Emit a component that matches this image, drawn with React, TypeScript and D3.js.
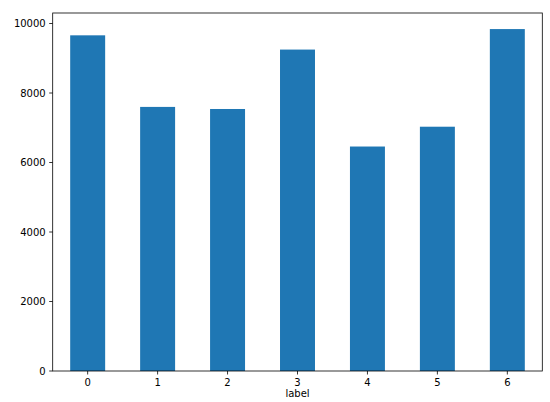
import React from "react";
import * as d3 from "d3";

const categories = ["0", "1", "2", "3", "4", "5", "6"];
const counts = [9660, 7600, 7540, 9250, 6460, 7030, 9840];
const yTicks = [0, 2000, 4000, 6000, 8000, 10000];
const xLabel = "label";

const W = 550;
const H = 402;
const M = { left: 52.7, right: 7.7, top: 13, bottom: 31 };

export default function App() {
  const x = d3
    .scaleLinear()
    .domain([-0.5, categories.length - 0.5])
    .range([M.left, W - M.right]);
  const maxV = d3.max(counts) as number;
  const y = d3
    .scaleLinear()
    .domain([0, maxV * 1.047])
    .range([H - M.bottom, M.top]);
  const bw = x(0.25) - x(-0.25);
  const font = "DejaVu Sans, sans-serif";
  const y0 = y(0);
  return (
    <svg
      width={W}
      height={H}
      style={{ position: "absolute", left: 0, top: 0, background: "#fff" }}
      fontFamily={font}
    >
      {counts.map((v, i) => (
        <rect
          key={i}
          x={x(i) - bw / 2}
          y={y(v)}
          width={bw}
          height={y0 - y(v)}
          fill="#1f77b4"
        />
      ))}
      <rect
        x={M.left}
        y={M.top}
        width={W - M.right - M.left}
        height={y0 - M.top}
        fill="none"
        stroke="#000"
        strokeWidth={0.8}
      />
      {yTicks.map((t) => (
        <g key={t} transform={`translate(0,${y(t)})`}>
          <line x1={M.left - 3.5} x2={M.left} stroke="#000" strokeWidth={0.8} />
          <text
            x={M.left - 7}
            dy="0.35em"
            textAnchor="end"
            fontSize={10}
            fill="#000"
          >
            {t}
          </text>
        </g>
      ))}
      {categories.map((c, i) => (
        <g key={c} transform={`translate(${x(i)},${y0})`}>
          <line y1={0} y2={3.5} stroke="#000" strokeWidth={0.8} />
          <text y={7} dy="0.75em" textAnchor="middle" fontSize={10} fill="#000">
            {c}
          </text>
        </g>
      ))}
      <text
        x={(M.left + W - M.right) / 2}
        y={H - 5}
        textAnchor="middle"
        fontSize={10}
        fill="#000"
      >
        {xLabel}
      </text>
    </svg>
  );
}
